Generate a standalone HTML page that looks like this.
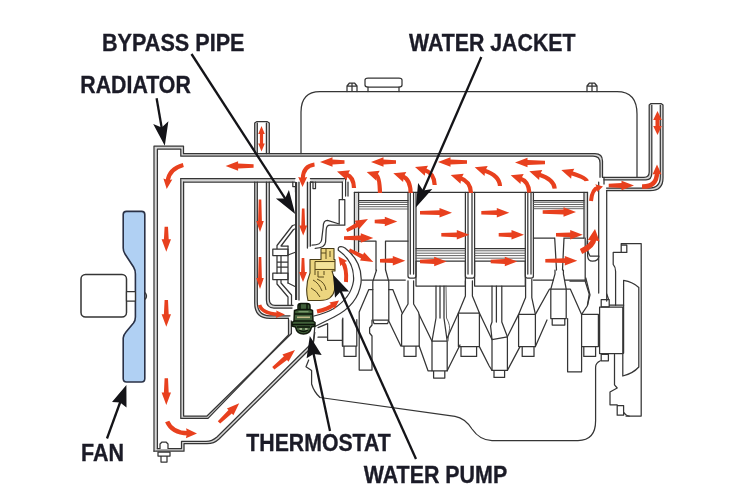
<!DOCTYPE html>
<html><head><meta charset="utf-8">
<style>
html,body{margin:0;padding:0;background:#fff;}
body{width:750px;height:500px;overflow:hidden;}
svg{display:block;filter:blur(0.45px)}
text{font-family:"Liberation Sans",sans-serif;font-weight:bold;font-size:24px;fill:#1b1b27;stroke:#1b1b27;stroke-width:0.35px}
.l{fill:none;stroke:#353535;stroke-width:1.25;stroke-linejoin:round;stroke-linecap:round}
.lw{fill:#fff;stroke:#353535;stroke-width:1.25;stroke-linejoin:round}
.g{fill:none;stroke:#d6d6d6;stroke-width:2.6;stroke-linejoin:round}
.t{fill:none;stroke:#555;stroke-width:0.9;stroke-linejoin:round;stroke-linecap:round}
.k{stroke:#111;stroke-width:2.2;fill:none}
.r{fill:#e8401e;stroke:none}
.rs{fill:none;stroke:#e8401e;stroke-width:4.5;stroke-linecap:butt}
</style></head><body>
<svg width="750" height="500" viewBox="0 0 750 500">

<rect width="750" height="500" fill="#fff"/>

<g id="wallfill">
<path class="g" d="M155.7,450 L155.7,147.6 L182.2,147.6 L182.2,155 L594,155 Q601.2,155 601.2,162 L601.2,177.3"/>
<path class="g" d="M155.7,450 L182.8,450 L182.8,442.5 L206.5,442.5 Q213,442.5 218,438 L312,345"/>
<path class="g" d="M182.2,180.2 L182.2,417.2 L207.5,417.2 L290,334.2 L290,320"/>
<path class="g" d="M182.2,180.2 L295,180.2 M310.4,180.2 L344,180.2"/>
<path class="g" d="M256,182 L256,302.5 Q256,317.1 270,317.1 L289,317.1"/>
<path class="g" d="M267.8,182 L267.8,299.5 Q267.8,306.7 274.5,306.7 L292.5,306.7"/>
<path class="g" d="M256,153.5 L256,123 M267.8,153.5 L267.8,123"/>
<path class="g" d="M297.5,182 L297.5,300 M308.9,182 L308.9,247"/>
<path class="g" d="M603,178.5 L645,178.5 Q650.5,178.5 650.5,172.5 L650.5,105 M661.6,105 L661.6,177.5 Q661.6,189.3 649.5,189.3 L606.5,189.3"/>
<path class="g" d="M356.5,192.4 L356.5,252 M585.8,192.4 L585.8,238"/>
</g>
<!-- RADIATOR -->
<g id="radiator">
<path class="l" d="M154,451.2 L154,146 L183.5,146 L183.5,153.7 L595,153.7 Q602.5,153.7 602.5,161 L602.5,177.3"/>
<path class="l" d="M157.4,448.6 L157.4,149.2 L180.8,149.2 L180.8,156.2 L593,156.2 Q600,156.2 600,163 L600,177.3"/>
<path class="l" d="M154,451.2 L184,451.2 L184,443.7 L207,443.7 Q214,443.7 219,439 L313,346 L314.8,327"/>
<path class="l" d="M157.4,448.6 L181.5,448.6 L181.5,441.4 L206,441.4 Q212,441.4 217,437 L311,344"/>
<path class="l" d="M180.8,178.5 L180.8,418.4 L208,418.4 L288.5,335 L288.5,319"/>
<path class="l" d="M183.6,182 L183.6,416 L207,416 L291.4,333.5 L291.4,321"/>
<path class="l" d="M180.8,178.5 L295,178.5"/>
<path class="l" d="M183.6,182 L295,182"/>
<!-- drain plug -->
<path class="lw" d="M160,449 L160,444 L162,442 L166,442 L168,444 L168,449 M158,452 L170,452 L170,456 L158,456 z M161,456 L161,462 L167,462 L167,456"/>
</g>

<!-- ENGINE TOP -->
<g id="engtop">
<!-- valve cover -->
<path class="l" d="M301,153.5 L301,112 Q301,91.5 320,91.5 L617,91.5 Q637,91.5 637,114 L637,177.3"/>
<path class="lw" d="M365,80 Q365,78 368,78 L399,78 Q402,78 402,80 L402,85 Q402,87 399,87 L368,87 Q365,87 365,85 z"/>
<path class="l" d="M368,87 L368,91.5 M399,87 L399,91.5"/>
<path class="l" d="M347,91.5 L347,86 L349.5,83 L354.5,83 L357,86 L357,91.5 M347,86 L357,86 M352,83 L352,91"/>
<path class="l" d="M587,91.5 L587,86 L589.5,83 L594.5,83 L597,86 L597,91.5 M587,86 L597,86 M592,83 L592,91"/>
<!-- small heater pipe top -->
<path class="l" d="M254.7,153.5 L254.7,123 L257,121.5 L267,121.5 L269.3,123 L269.3,153.5 M257.3,153.5 L257.3,123 M266.4,153.5 L266.4,123"/>
<!-- outlet pipe right -->
<path class="l" d="M602.5,177.3 L644,177.3 Q649.2,177.3 649.2,172 L649.2,105 L651,103.5 L661,103.5 L663,105 L663,178 Q663,190.7 650,190.7 L606.5,190.7"/>
<path class="l" d="M604,179.8 L646,179.8 Q651.8,179.8 651.8,173 L651.8,105 M660.3,105 L660.3,177 Q660.3,188 649,188 L606.5,188"/>
<!-- block right wall -->
<path class="l" d="M604,177.3 L604,184 M598.7,182 L598.7,293 M606.7,190.7 L606.7,301"/>
</g>

<!-- CYLINDERS -->
<g id="cyl">
<path class="l" d="M345.6,178.5 L345.6,196 M348,182 L348,196"/>
<path class="l" d="M354.4,192.4 L587.5,192.4"/>
<!-- cyl1 left wall -->
<path class="l" d="M354.4,192.4 L354.4,252 M358.6,192.4 L358.6,252"/>
<!-- dividers -->
<g id="div">
<path class="l" d="M408,192.4 L408,276 Q408,278 410,278 L414,278 Q416,278 416,276 L416,192.4 M410.3,192.4 L410.3,274 M413.6,192.4 L413.6,274"/>
<path class="l" d="M465.4,192.4 L465.4,276 Q465.4,278 467.4,278 L472.6,278 Q474.6,278 474.6,276 L474.6,192.4 M468,192.4 L468,274 M472,192.4 L472,274"/>
<path class="l" d="M525.3,192.4 L525.3,276 Q525.3,278 527.3,278 L531.4,278 Q533.4,278 533.4,276 L533.4,192.4 M527.8,192.4 L527.8,274 M531,192.4 L531,274"/>
</g>
<path class="l" d="M584,192.4 L584,238 M587.5,192.4 L587.5,238"/>
<!-- piston 1 -->
<path class="l" d="M358.6,200.5 L408,200.5 M358.6,241 L376,241 M385.5,241 L408,241 M376,241 L376,270 M385.5,241 L385.5,270"/>
<path class="t" d="M358.6,202.5 L408,202.5 M358.6,204.5 L408,204.5 M358.6,206.7 L408,206.7 M358.6,209 L408,209"/>
<!-- piston 4 -->
<path class="l" d="M533.4,200.5 L584,200.5 M533.4,238 L554.7,238 M564,238 L584,238 M554.7,238 L556.5,270 M564,238 L562.5,270"/>
<path class="t" d="M533.4,202.3 L584,202.3 M533.4,204.5 L584,204.5 M533.4,206.7 L584,206.7 M533.4,208.7 L584,208.7"/>
<!-- pistons 2,3 bottom -->
<path class="l" d="M416,248.5 L465.4,248.5 M416,261 L465.4,261 M416,261 L416,286 L465.4,286 L465.4,261"/>
<path class="t" d="M416,250.8 L465.4,250.8 M416,253.2 L465.4,253.2 M416,255.6 L465.4,255.6 M416,258.2 L465.4,258.2"/>
<path class="l" d="M474.6,248.5 L525.3,248.5 M474.6,261 L525.3,261 M474.6,261 L474.6,286 L525.3,286 L525.3,261"/>
<path class="t" d="M474.6,250.8 L525.3,250.8 M474.6,253.2 L525.3,253.2 M474.6,255.6 L525.3,255.6 M474.6,258.2 L525.3,258.2"/>
</g>

<!-- MIDDLE: pipes, pump, thermostat -->
<g id="mid">
<!-- top hose bottom lines extend to x=345 -->
<path class="l" d="M310.4,178.5 L345.6,178.5 M310.4,182 L342.4,182"/>
<!-- U pipe (heater return) -->
<path class="l" d="M254.7,182 L254.7,303 Q254.7,318.4 270,318.4 L288.5,318.4"/>
<path class="l" d="M257.3,182 L257.3,302 Q257.3,315.8 270,315.8 L290,315.8"/>
<path class="l" d="M266.4,182 L266.4,300 Q266.4,308 274,308 L292,308"/>
<path class="l" d="M269.3,182 L269.3,299 Q269.3,305.4 275,305.4 L293,305.4"/>
<!-- bypass pipe -->
<path d="M296,182 L296,300" stroke="#222" stroke-width="1.8" fill="none"/>
<path class="l" d="M299,182 L299,300 M307.4,182 L307.4,248 M310.4,182 L310.4,246"/>
<!-- bracket left of bypass -->
<path class="l" d="M292.8,182 L292.8,186.5 L295.5,186.5 L295.5,192"/>
<!-- pulley -->
<path class="l" d="M296,224.5 L292.5,225.5 L277,245.5 L277,249 M296,228.5 L293.5,229.5 L281,246 L288,246"/>
<path class="lw" d="M272.8,249.2 L288,249.2 L288,255.6 L272.8,255.6 z M272.8,273.2 L288,273.2 L288,279.6 L272.8,279.6 z"/>
<path class="l" d="M277,255.6 L277,273.2 M281,255.6 L281,273.2 M288,246 L288,283 M277,262 L288,262 M277,267 L288,267"/>
<path class="l" d="M277,279.6 L277,284 L288,297 L288,305.4 M281,279.6 L281,283 L291.5,295 L291.5,305.4 M288,283 L296,287 M288,255 L296,252"/>
<!-- housing right of bypass (water outlet) -->
<path class="l" d="M310.4,182 L313,182 L313,188.5 L315.5,188.5 L315.5,182 M342.4,182 L342.4,199.6 L339.2,199.6 L339.2,224 L327.5,220.4 Q323.2,220.4 323.2,227 L321.6,240 Q321,245 312,245.2"/>
<path class="l" d="M342.4,199.6 L344.8,199.6 L344.8,225.2 L330,225.2 Q326.5,225.2 326.2,230 L325.6,242 Q325,248 315.2,248.4"/>
<!-- pump yellow -->
<path d="M321,248.5 L334,248.5 L334,259.5 L335,259.5 L335,271 L332,271 Q336,281 334.5,290 Q332.5,300.5 320,300.5 L308,300.5 Q304.5,286 310,273 L310,259.5 L321,259.5 z" fill="#ecd57f" stroke="#4a3e18" stroke-width="1.1" stroke-linejoin="round"/>
<path d="M315,261.5 L335,261.5 M315,269.5 L335,269.5 M315,261.5 L315,275 M326,248.5 L326,259 M330,251 L330,257 M321,253 L326,253 M318,271 L318,277 L324,277 M313,280 Q319,283 322,291 M317,279 Q325,282 326,290 M311,288 Q317,291 320,297 M324,271 L324,275" fill="none" stroke="#5a4a1c" stroke-width="1"/>
<path d="M316,262.5 L334,262.5 L334,268.5 L316,268.5 z" fill="#f3e39a" stroke="none"/>
<!-- big curve pump outlet -->
<path class="l" d="M338.4,250.2 Q337.5,246.6 341,246.6 Q343,246.6 345,248 Q363,262 361,283 Q358,305 334,317 L315,326.5"/>
<path class="l" d="M338.4,250.2 Q355,262 353.5,281 Q351,298 333,309 Q326,313 314,316"/>
<!-- thermostat -->
<g id="thermo">
<path d="M298,306 Q298,303.5 301,303.5 L307,303.5 Q310,303.5 310,306 L310,309.5 L312.5,310.5 L313,321 L315,322.5 L315,326 L311.5,327 Q310,334 303.5,334 Q297,334 295.5,327 L292,326 L292,322.5 L294,321 L294.5,310.5 L298,309.5 z" fill="#41603a" stroke="#10190c" stroke-width="1.5" stroke-linejoin="round"/>
<path d="M298,309.5 L310,309.5 M294.5,314 L312.5,314 M294,321 L313,321 M292,324.5 L315,324.5 M297,327 L310,327 M300,303.5 L300,309 M307,303.5 L307,309 M299,330 Q303.5,333 308,330" stroke="#0c140a" stroke-width="1.5" fill="none"/>
<path d="M297,317.3 L310,317.3" stroke="#c2b987" stroke-width="1.6"/>
<path d="M298.5,311.7 L308.5,311.7" stroke="#7fa070" stroke-width="1.2"/>
<path d="M299.5,329 L302,329 M305,329 L307.5,329" stroke="#b9c7a0" stroke-width="1.3"/>
</g>
</g>

<!-- CRANK -->
<g id="crank">
<!-- block lower edge under cyl1 -->
<path class="l" d="M362,280 L405.3,280"/>
<!-- con rod 1 -->
<path class="l" d="M376.5,270 L372.8,281.6 L372.8,320 L388.8,320 L388.8,281.6 L385.6,270 M372.8,320 L374,323.6 L387.6,323.6 L388.8,320"/>
<!-- crank web 1 -->
<path class="l" d="M372.8,289.6 L368.8,289.6 L359.2,312 L359.2,370 L372,370 L372,336 L369.6,333 L369.6,328 L372,325 L372,320 M388.8,289.6 L392.8,289.6 L402.4,313.6 M388.8,321 L400.8,346"/>
<!-- front journal -->
<path class="l" d="M342.4,319.6 L342.4,346 L356.8,346 L356.8,319.6 M344,346 L344,356.4 L356,356.4 L356,346"/>
<!-- main bearing 2 -->
<path class="l" d="M408,280.8 L408,304 L403.2,312 L401.6,314.8 L401.6,346 L419.2,346 L419.2,314.8 L418.4,312 L413.6,304 L413.6,280.8 M404,346 L404,356.4 L416,356.4 L416,346"/>
<!-- web to rod 2 -->
<path class="l" d="M419.2,314.8 L432,341.2 M419.2,346 L428,370.8 L432,370.8"/>
<!-- rod 2 -->
<path class="l" d="M436,286 L436,318 L432,341.2 L432,370.8 L447.2,370.8 L447.2,341.2 L444,318 L444,286 M432,341.2 L447.2,341.2 M440,286 L440,318 M433.6,370.8 L433.6,378 L444.8,378 L444.8,370.8"/>
<path class="t" d="M446,286 L446.5,318 Q451,326 449,332 L448,341"/>
<path class="l" d="M447.2,370.8 L460,345 M447.2,338 L458.4,313"/>
<!-- main bearing 3 -->
<path class="l" d="M465.4,280.8 L465.4,296 L458.4,313 L458.4,346.6 L479.4,346.6 L479.4,313 L472.4,296 L472.4,280.8 M458.4,313 L479.4,313 M461,346.6 L461,356.4 L476.6,356.4 L476.6,346.6"/>
<path class="l" d="M479.4,313 L492,339.6 M479.4,346.6 L489.2,366 L492,370.4"/>
<!-- rod 3 -->
<path class="l" d="M492,286 L492,322 L490.6,326 L492,339.6 L492,370.4 L507.4,370.4 L507.4,336.8 L501.8,322 L501.8,286 M496.4,286 L496.4,322 M492,339.6 L507.4,336.8 M494,370.4 L494,377.4 L504.6,377.4 L504.6,370.4"/>
<path class="l" d="M507.4,336.8 L518.6,314.4 M507.4,370.4 L520,346.6"/>
<!-- main bearing 4 -->
<path class="l" d="M525.6,279.4 L525.6,297.6 L518.6,314.4 L518.6,346.6 L535.4,346.6 L535.4,314.4 L531.8,297.6 L531.8,279.4 M518.6,314.4 L535.4,314.4 M522.2,346.6 L522.2,356.4 L534,356.4 L534,346.6"/>
<!-- web 4 -->
<path class="l" d="M535.4,314.4 L549.4,289.2 L570.4,289.2 L581.6,314.4 M535.4,346.6 L547,320"/>
<path class="l" d="M533.4,280 L553.5,280 M564.8,280 L585.2,280"/>
<!-- rod 4 -->
<path class="l" d="M555,270 L555,273.8 L550.8,289.2 L550.8,318.6 L566.2,318.6 L566.2,289.2 L563.4,273.8 L563.4,270 M552.2,318.6 L552.2,325 L564.8,325 L564.8,318.6"/>
<path class="l" d="M567.6,318.6 L567.6,371.8 L581.6,371.8 L581.6,314.4"/>
<!-- rear main -->
<path class="l" d="M581.6,314.4 L598.4,314.4 L598.4,346.6 L581.6,346.6 M583.8,346.6 L583.8,356.4 L595.6,356.4 L595.6,346.6"/>
<path class="l" d="M587.5,238 Q586,250 590,256 L598.7,256 M585.8,278 L590,294.8 L587.2,306 L581.6,314.4"/>
</g>

<!-- REAR + OIL PAN + FRONT -->
<g id="rear">
<!-- U notch and block rear -->
<path class="l" d="M587.6,241 L587.6,256 Q588,261.2 592.4,261.2 Q598.8,261 598.8,256"/>
<path class="l" d="M585.2,238 L585.2,281.2 L570,281.2 M585.2,281.2 L589.2,294 L587.6,305"/>
<path class="l" d="M606.7,294 L608.4,298.8"/>
<!-- flywheel housing -->
<path class="l" d="M621.2,243.6 L641.2,243.6 L641.2,416 L626,416 M621.2,243.6 L621.2,252.4 L613.2,252.4 L613.2,264.4 Q615.6,267 615.6,271.6 L615.6,305.2 M621.2,245.2 L626.8,245.2 L626.8,252.4 L621.2,252.4"/>
<path class="l" d="M623.6,280.4 Q633,282 638.8,287.5 L638.8,367 Q633,373.5 622.8,376 L622.8,353.6 M623.6,280.4 L623.6,353"/>
<path class="l" d="M601.2,299.6 L609.2,299.6 L609.2,306.8 L601.2,306.8 z M609.2,305.2 L623.6,305.2"/>
<!-- rear seal housing -->
<path class="l" d="M599.6,307.2 L622.8,307.2 L622.8,353.6 L599.6,353.6 z M601.2,354.4 L608.4,354.4 L608.4,360.8 L601.2,360.8 z"/>
<path class="l" d="M614.5,354.4 L614.5,384.8 L617.2,388 L610,392 L610,404.8 L617.2,404.8 L617.2,415.2 L623.6,415.2 L623.6,405.6 L617.2,405.6 M623.6,412 Q626,416 629.2,416"/>
<!-- oil pan -->
<path class="l" d="M600.4,360.8 Q595.6,363 595.6,367.2 L595.6,420.8 Q595.6,440.5 578,440.5 L492,440.5 Q480,440.5 472,429 Q465,418 455,416.3 L320,397.5 Q314,392 311.6,384 L311.6,370.5 L306,366.7 L308.7,360"/>
<!-- front cover -->
<path class="l" d="M318,327.6 L327.6,323.6 L327.6,340.4 L342.8,340.4 M318,337.2 L327.6,337.2 M342.8,318 L342.8,346"/>
<path class="l" d="M314.8,332.4 L313,346"/>
</g>

<!-- FAN -->
<g id="fan">
<path d="M126.5,211.4 L141.6,211.4 Q144.8,211.4 144.8,214.6 L144.8,378.6 Q144.8,382 141.6,382 L126.5,382 Q123.2,382 123.2,378.6 L123.2,338 Q123.5,335 126,332 L133.5,323 Q135.4,320.5 135.4,317 L135.4,274 Q135.4,270 133.5,267 L125,254 Q123.2,251.5 123.2,248 L123.2,214.6 Q123.2,211.4 126.5,211.4 z" fill="#b0d0f3" stroke="#2a3146" stroke-width="1.6"/>
<rect class="lw" x="81" y="274.4" width="45.5" height="42.6" rx="4.5" style="stroke-width:1.5"/>
<rect class="lw" x="126.5" y="291.5" width="8.9" height="9.5"/>
<path d="M145.5,293 Q147.5,296 145.5,299" class="l"/>
</g>

<!-- ARROWS -->
<g id="arrows">
<polygon class="r" points="253.6,164.3 238.1,163.6 238.1,161.3 225.6,166.0 238.1,170.7 238.1,168.4 253.6,167.7"/>
<polygon class="r" points="344.5,160.3 332.5,159.6 332.5,157.3 320.0,162.0 332.5,166.7 332.5,164.4 344.5,163.7"/>
<polygon class="r" points="396.0,160.3 383.5,159.6 383.5,157.3 371.0,162.0 383.5,166.7 383.5,164.4 396.0,163.7"/>
<polygon class="r" points="467.0,160.3 450.5,159.6 450.5,157.3 438.0,162.0 450.5,166.7 450.5,164.4 467.0,163.7"/>
<polygon class="r" points="545.0,160.8 527.5,160.1 527.5,157.8 515.0,162.5 527.5,167.2 527.5,164.9 545.0,164.2"/>
<path d="M354.0,188.0 Q353.5,176.9 346.5,174.6" fill="none" stroke="#e8401e" stroke-width="4.2"/><polygon class="r" points="350.0,170.3 337.0,171.5 346.8,180.2 347.4,174.9"/>
<path d="M380.0,193.0 Q379.5,176.3 376.2,175.2" fill="none" stroke="#e8401e" stroke-width="4.2"/><polygon class="r" points="379.7,170.8 366.7,172.0 376.4,180.8 377.1,175.5"/>
<path d="M410.7,193.0 Q410.2,178.9 402.8,176.4" fill="none" stroke="#e8401e" stroke-width="4.2"/><polygon class="r" points="406.3,172.1 393.3,173.3 403.1,182.0 403.7,176.7"/>
<path d="M434.7,185.0 Q434.2,173.3 424.5,170.1" fill="none" stroke="#e8401e" stroke-width="4.2"/><polygon class="r" points="428.0,165.8 415.0,167.0 424.8,175.7 425.5,170.4"/>
<path d="M471.0,193.0 Q470.5,181.5 460.2,178.1" fill="none" stroke="#e8401e" stroke-width="4.2"/><polygon class="r" points="463.7,173.8 450.7,175.0 460.5,183.7 461.2,178.4"/>
<path d="M500.0,186.0 Q499.5,175.4 484.2,170.4" fill="none" stroke="#e8401e" stroke-width="4.2"/><polygon class="r" points="487.7,166.0 474.7,167.3 484.5,176.0 485.2,170.7"/>
<path d="M529.3,192.7 Q528.8,181.3 520.2,178.4" fill="none" stroke="#e8401e" stroke-width="4.2"/><polygon class="r" points="523.7,174.1 510.7,175.3 520.5,184.0 521.1,178.7"/>
<path d="M554.7,188.7 Q554.2,179.4 538.8,174.4" fill="none" stroke="#e8401e" stroke-width="4.2"/><polygon class="r" points="542.3,170.0 529.3,171.3 539.1,180.0 539.8,174.7"/>
<path d="M586.7,181.0 Q586.2,178.1 570.8,173.1" fill="none" stroke="#e8401e" stroke-width="4.2"/><polygon class="r" points="574.3,168.7 561.3,170.0 571.1,178.7 571.8,173.4"/>
<path d="M314.5,164.5 Q303.0,166.0 302.7,179.0" fill="none" stroke="#e8401e" stroke-width="4.0"/><polygon class="r" points="298.2,176.9 302.5,187.0 307.2,177.1 302.7,178.0"/>
<polygon class="r" points="374.7,223.2 384.8,223.9 384.8,226.2 397.3,221.5 384.8,216.8 384.8,219.1 374.7,219.8"/>
<polygon class="r" points="344.0,239.7 360.8,240.4 360.8,242.7 373.3,238.0 360.8,233.3 360.8,235.6 344.0,236.3"/>
<polygon class="r" points="380.0,262.4 392.8,263.1 392.8,265.4 405.3,260.7 392.8,256.0 392.8,258.3 380.0,259.0"/>
<polygon class="r" points="420.0,214.4 439.5,215.1 439.5,217.4 452.0,212.7 439.5,208.0 439.5,210.3 420.0,211.0"/>
<polygon class="r" points="481.3,214.4 496.8,215.1 496.8,217.4 509.3,212.7 496.8,208.0 496.8,210.3 481.3,211.0"/>
<polygon class="r" points="542.7,213.7 563.5,214.4 563.5,216.7 576.0,212.0 563.5,207.3 563.5,209.6 542.7,210.3"/>
<polygon class="r" points="441.3,236.5 456.8,237.2 456.8,239.5 469.3,234.8 456.8,230.1 456.8,232.4 441.3,233.1"/>
<polygon class="r" points="498.7,236.5 511.5,237.2 511.5,239.5 524.0,234.8 511.5,230.1 511.5,232.4 498.7,233.1"/>
<polygon class="r" points="556.0,236.5 570.2,237.2 570.2,239.5 582.7,234.8 570.2,230.1 570.2,232.4 556.0,233.1"/>
<polygon class="r" points="420.0,263.2 434.2,263.9 434.2,266.2 446.7,261.5 434.2,256.8 434.2,259.1 420.0,259.8"/>
<polygon class="r" points="490.7,263.2 504.8,263.9 504.8,266.2 517.3,261.5 504.8,256.8 504.8,259.1 490.7,259.8"/>
<polygon class="r" points="545.3,262.4 564.8,263.1 564.8,265.4 577.3,260.7 564.8,256.0 564.8,258.3 545.3,259.0"/>
<polygon class="r" points="347.4,231.9 358.1,226.9 359.2,229.1 368.0,219.0 354.8,220.8 355.9,223.0 346.0,229.1"/>
<polygon class="r" points="348.6,251.4 361.1,258.4 360.0,260.6 373.3,262.0 364.2,252.2 363.1,254.4 350.0,248.6"/>
<path d="M581.0,251.5 Q593.0,246.0 593.8,238.9" fill="none" stroke="#e8401e" stroke-width="5.5"/><polygon class="r" points="599.6,241.6 595.0,229.0 587.6,240.2 593.7,239.9"/>
<path d="M591.0,201.0 Q592.0,189.0 598.1,187.6" fill="none" stroke="#e8401e" stroke-width="4.0"/><polygon class="r" points="597.1,192.0 603.0,186.5 595.3,184.2 597.1,187.8"/>
<polygon class="r" points="608.7,187.2 621.5,187.9 621.5,190.2 634.0,185.5 621.5,180.8 621.5,183.1 608.7,183.8"/>
<path d="M642.0,186.5 Q657.0,187.0 657.0,172.5" fill="none" stroke="#e8401e" stroke-width="4.5"/><polygon class="r" points="661.5,174.5 657.0,164.5 652.5,174.5 657.0,173.5"/>
<polygon class="r" points="657.5,111.0 653.2,120.0 655.5,120.0 655.5,126.0 653.2,126.0 657.5,135.0 661.8,126.0 659.5,126.0 659.5,120.0 661.8,120.0"/>
<path d="M183.3,165.0 Q169.0,169.0 167.6,181.1" fill="none" stroke="#e8401e" stroke-width="4.0"/><polygon class="r" points="163.4,178.6 166.7,189.0 172.3,179.6 167.7,180.1"/>
<polygon class="r" points="164.6,226.7 163.9,239.2 161.6,239.2 166.3,251.7 171.0,239.2 168.7,239.2 168.0,226.7"/>
<polygon class="r" points="164.6,300.0 163.9,314.2 161.6,314.2 166.3,326.7 171.0,314.2 168.7,314.2 168.0,300.0"/>
<polygon class="r" points="164.6,378.3 163.9,392.5 161.6,392.5 166.3,405.0 171.0,392.5 168.7,392.5 168.0,378.3"/>
<path d="M167.2,421.5 Q172.0,433.0 188.0,433.3" fill="none" stroke="#e8401e" stroke-width="4.5"/><polygon class="r" points="185.9,438.3 197.0,433.5 186.1,428.3 187.0,433.3"/>
<polygon class="r" points="220.2,423.6 231.8,413.6 233.4,415.2 239.2,403.2 226.9,408.4 228.5,410.1 217.8,421.2"/>
<polygon class="r" points="274.4,369.6 287.0,359.9 288.5,361.7 295.0,350.0 282.4,354.5 283.9,356.2 272.2,367.0"/>
<polygon class="r" points="258.7,199.5 258.1,221.0 256.2,221.0 260.0,232.0 263.8,221.0 261.9,221.0 261.3,199.5"/>
<polygon class="r" points="258.7,257.0 258.1,278.0 256.2,278.0 260.0,289.0 263.8,278.0 261.9,278.0 261.3,257.0"/>
<path d="M259.6,305.0 Q262.0,313.5 278.0,314.2" fill="none" stroke="#e8401e" stroke-width="3.5"/><polygon class="r" points="275.8,317.9 285.0,314.5 276.2,310.4 277.0,314.2"/>
<polygon class="r" points="261.5,126.0 258.2,134.0 259.9,134.0 259.9,143.5 258.2,143.5 261.5,151.5 264.8,143.5 263.1,143.5 263.1,134.0 264.8,134.0"/>
<polygon class="r" points="301.9,208.4 301.3,225.6 299.2,225.6 303.2,235.6 307.2,225.6 305.1,225.6 304.5,208.4"/>
<polygon class="r" points="301.7,258.0 301.1,272.0 299.0,272.0 303.0,282.0 307.0,272.0 304.9,272.0 304.3,258.0"/>
<path d="M346.0,282.0 Q347.0,268.0 342.6,262.0" fill="none" stroke="#e8401e" stroke-width="4.0"/><polygon class="r" points="347.2,261.1 338.4,256.4 340.3,266.2 343.2,262.8"/>
<path d="M317.0,311.5 Q328.0,309.0 333.5,304.8" fill="none" stroke="#e8401e" stroke-width="4.0"/><polygon class="r" points="334.5,309.4 339.0,300.5 329.3,302.6 332.7,305.4"/>
</g>








<!-- labels -->
<g id="labels">
<text x="102" y="50.5" textLength="142.5" lengthAdjust="spacingAndGlyphs">BYPASS PIPE</text>
<text x="80.3" y="92.8" textLength="110.5" lengthAdjust="spacingAndGlyphs">RADIATOR</text>
<text x="409" y="51.2" textLength="166.5" lengthAdjust="spacingAndGlyphs">WATER JACKET</text>
<text x="81" y="460.5" textLength="43" lengthAdjust="spacingAndGlyphs">FAN</text>
<text x="246.3" y="451" textLength="144.5" lengthAdjust="spacingAndGlyphs">THERMOSTAT</text>
<text x="363.7" y="483" textLength="143.5" lengthAdjust="spacingAndGlyphs">WATER PUMP</text>
</g>

<!-- leaders -->
<g id="leaders">
<path d="M191.5,54.0 L286.2,200.2" stroke="#141418" stroke-width="2.3" fill="none"/><polygon fill="#141418" points="275.9,198.5 295.2,214.0 288.9,190.1 285.1,198.5"/>
<path d="M156.6,98.2 L162.0,129.5" stroke="#141418" stroke-width="2.3" fill="none"/><polygon fill="#141418" points="153.2,124.0 164.8,145.8 168.4,121.3 161.7,127.6"/>
<path d="M481.3,57.0 L422.4,192.5" stroke="#141418" stroke-width="2.3" fill="none"/><polygon fill="#141418" points="418.1,183.0 415.8,207.6 432.3,189.1 423.2,190.6"/>
<path d="M107.0,438.5 L120.8,400.5" stroke="#141418" stroke-width="2.3" fill="none"/><polygon fill="#141418" points="126.5,407.4 126.4,385.0 112.0,402.1 120.1,402.4"/>
<path d="M330.0,431.0 L313.2,352.1" stroke="#141418" stroke-width="2.3" fill="none"/><polygon fill="#141418" points="321.7,354.9 309.8,336.0 306.6,358.2 313.6,354.1"/>
<path d="M416.0,459.0 L339.8,289.5" stroke="#141418" stroke-width="2.3" fill="none"/><polygon fill="#141418" points="349.1,291.4 333.0,274.5 335.0,297.7 340.6,291.4"/>
</g>
</svg>
</body></html>
